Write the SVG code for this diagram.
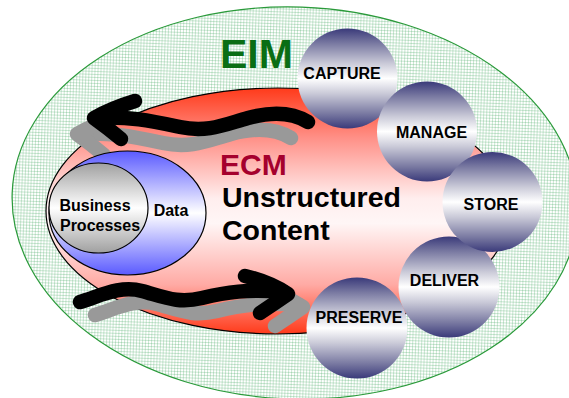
<svg xmlns="http://www.w3.org/2000/svg" width="569" height="398" viewBox="0 0 569 398">
<style>
.lbl{font-family:"Liberation Sans",Arial,sans-serif;font-weight:bold;fill:#000;text-anchor:middle}
.big{font-family:"Liberation Sans",Arial,sans-serif;font-weight:bold}
.sphere{fill:url(#sph)}
.blk{fill:none;stroke:#000;stroke-width:14.5;stroke-linecap:round;stroke-linejoin:round}
.gry{fill:none;stroke:#999;stroke-width:14.5;stroke-linecap:round;stroke-linejoin:round}
</style>
<defs>
<pattern id="grid" width="3" height="3" patternUnits="userSpaceOnUse">
<rect width="3" height="3" fill="#fff"/>
<rect width="3" height="1" fill="#3fa55e" fill-opacity="0.27"/>
<rect width="1" height="3" fill="#3fa55e" fill-opacity="0.27"/>
</pattern>
<linearGradient id="red" x1="0" y1="0" x2="0" y2="1">
<stop offset="0" stop-color="#ff3a1a"/>
<stop offset="0.2" stop-color="#ff8f86"/>
<stop offset="0.45" stop-color="#ffeeee"/>
<stop offset="0.55" stop-color="#fff6f6"/>
<stop offset="0.8" stop-color="#ffaaa4"/>
<stop offset="1" stop-color="#ff3a1a"/>
</linearGradient>
<linearGradient id="blue" x1="0" y1="0" x2="0" y2="1">
<stop offset="0" stop-color="#5a5aff"/>
<stop offset="0.5" stop-color="#ffffff"/>
<stop offset="1" stop-color="#5a5aff"/>
</linearGradient>
<linearGradient id="gray" x1="0" y1="0" x2="0" y2="1">
<stop offset="0" stop-color="#a0a0a0"/>
<stop offset="0.5" stop-color="#ffffff"/>
<stop offset="1" stop-color="#a0a0a0"/>
</linearGradient>
<linearGradient id="sph" x1="0" y1="0" x2="0" y2="1">
<stop offset="0" stop-color="#3a3a7a"/>
<stop offset="0.15" stop-color="#7a7aa2"/>
<stop offset="0.35" stop-color="#cacad8"/>
<stop offset="0.5" stop-color="#ffffff"/>
<stop offset="0.65" stop-color="#cacad8"/>
<stop offset="0.85" stop-color="#7a7aa2"/>
<stop offset="1" stop-color="#3a3a7a"/>
</linearGradient>
</defs>

<g id="eim">
<ellipse cx="295" cy="203" rx="283" ry="196" transform="rotate(2 295 203)" fill="url(#grid)" stroke="#2a9a3a" stroke-width="1.2"/>
<text class="big" x="220" y="68" font-size="41" fill="#0a6e14">EIM</text>
</g>

<g id="ecm">
<ellipse cx="278" cy="211" rx="232" ry="123" fill="url(#red)" stroke="#000" stroke-width="1.2"/>
<text class="big" x="220" y="175" font-size="30" fill="#a5002d">ECM</text>
<text class="big" x="222" y="207" font-size="28.5" fill="#000">Unstructured</text>
<text class="big" x="222" y="240" font-size="28.5" fill="#000">Content</text>
</g>

<g id="connectors">
<g transform="translate(-17 16)">
<path class="gry" d="M308,122 C290,111 270,112 248,118 S208,133 180,127 S130,116 95,118"/>
<path class="gry" d="M135,101 Q112,108 94,118 Q108,128 121,139"/>
</g>
<path class="blk" d="M308,122 C290,111 270,112 248,118 S208,133 180,127 S130,116 95,118"/>
<path class="blk" d="M135,101 Q112,108 94,118 Q108,128 121,139"/>
<g transform="translate(15 13)">
<path class="gry" d="M80,302 C100,296 120,285 142,291 S178,304 202,298 S248,289 284,292"/>
<path class="gry" d="M245,276 Q270,282 288,294 Q275,303 260,313"/>
</g>
<path class="blk" d="M80,302 C100,296 120,285 142,291 S178,304 202,298 S248,289 284,292"/>
<path class="blk" d="M245,276 Q270,282 288,294 Q275,303 260,313"/>
</g>

<g id="data">
<ellipse cx="127.5" cy="213" rx="78.5" ry="62" fill="url(#blue)" stroke="#000" stroke-width="1.2"/>
<text class="lbl" x="171" y="216" font-size="16">Data</text>
</g>

<g id="business-processes">
<ellipse cx="98.5" cy="208" rx="49.5" ry="45" fill="url(#gray)" stroke="#000" stroke-width="1.2"/>
<text class="lbl" x="95" y="211" font-size="16">Business</text>
<text class="lbl" x="100" y="231" font-size="16">Processes</text>
</g>

<g id="capture">
<circle class="sphere" cx="347.5" cy="78.5" r="50"/>
<text class="lbl" x="342" y="79" font-size="16">CAPTURE</text>
</g>
<g id="manage">
<circle class="sphere" cx="427" cy="131.5" r="50"/>
<text class="lbl" x="431.5" y="138" font-size="16">MANAGE</text>
</g>
<g id="deliver">
<circle class="sphere" cx="449" cy="287" r="50.5"/>
<text class="lbl" x="444.5" y="286" font-size="16">DELIVER</text>
</g>
<g id="store">
<circle class="sphere" cx="492.5" cy="202" r="50"/>
<text class="lbl" x="491" y="210" font-size="16">STORE</text>
</g>
<g id="preserve">
<circle class="sphere" cx="357" cy="328" r="50.5"/>
<text class="lbl" x="359" y="323" font-size="16">PRESERVE</text>
</g>
</svg>
